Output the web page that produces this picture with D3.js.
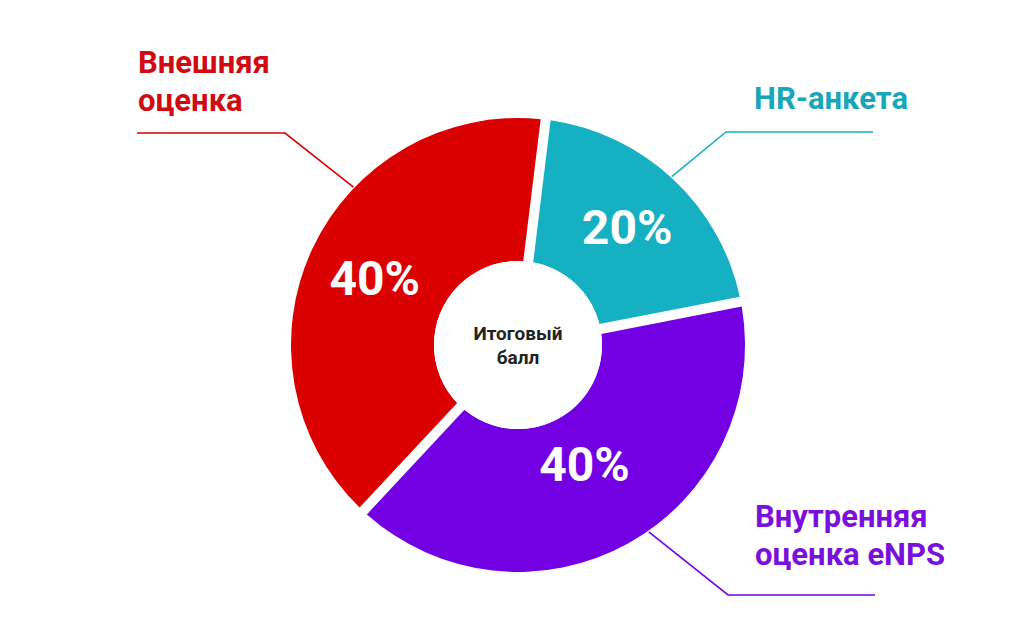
<!DOCTYPE html>
<html>
<head>
<meta charset="utf-8">
<script src="https://cdn.jsdelivr.net/npm/d3@7"></script>
<style>
  body { margin: 0; background: #fff; }
  svg { display: block; font-family: Roboto, 'Open Sans', sans-serif; }
</style>
</head>
<body>
<svg id="chart" width="1024" height="619"></svg>
<script>
// data for the donut, in drawing order (clockwise from the top)
const categories = ['HR-анкета', 'Внутренняя оценка eNPS', 'Внешняя оценка'];
const shares = [20, 40, 40];
const sliceColors = ['#15b1c2', '#7300e3', '#db0000'];
const labelColors = ['#17a7b9', '#7a10dc', '#cf0a12'];
const centerText = ['Итоговый', 'балл'];

const width = 1024;
const height = 619;
const cx = 518;
const cy = 345;
const outerR = 227;
const innerR = 84;

const svg = d3.select('#chart');
const g = svg.append('g').attr('transform', `translate(${cx},${cy})`);

// pie starts a little right of 12 o'clock
const start = 7 * Math.PI / 180;
const pie = d3.pie()
  .sort(null)
  .value(d => d)
  .startAngle(start)
  .endAngle(start + 2 * Math.PI);

const arcs = pie(shares);

const arc = d3.arc()
  .innerRadius(innerR)
  .outerRadius(outerR)
  .padAngle(10 / outerR)
  .padRadius(outerR);

g.selectAll('path.slice')
  .data(arcs)
  .join('path')
  .attr('class', 'slice')
  .attr('d', arc)
  .attr('fill', (d, i) => sliceColors[i]);

// white hole in the middle
g.append('circle')
  .attr('r', innerR)
  .attr('fill', '#fff');

g.append('text')
  .attr('text-anchor', 'middle')
  .attr('font-size', 19)
  .attr('font-weight', 700)
  .attr('fill', '#222')
  .selectAll('tspan')
  .data(centerText)
  .join('tspan')
  .attr('x', 0)
  .attr('y', (d, i) => -5 + i * 24)
  .text(d => d);

// percent labels inside the slices
const labelR = [160, 137, 158];
g.selectAll('text.pct')
  .data(arcs)
  .join('text')
  .attr('class', 'pct')
  .attr('text-anchor', 'middle')
  .attr('dominant-baseline', 'central')
  .attr('font-size', 48)
  .attr('font-weight', 700)
  .attr('fill', '#fff')
  .attr('transform', (d, i) => {
    const p = d3.arc().innerRadius(labelR[i]).outerRadius(labelR[i]).centroid(d);
    return `translate(${p[0]},${p[1]})`;
  })
  .text(d => d.value + '%');

// leader lines and category labels
// each leader: point on the slice edge, an elbow, and the end of the flat line
const leaderAngle = [42.4, 145, 313.8];
const leaders = arcs.map((d, i) => {
  const a = leaderAngle[i] * Math.PI / 180;
  return [Math.sin(a) * (outerR + 1), -Math.cos(a) * (outerR + 1)];
});

const leaderPaths = [
  [leaders[0], [726 - cx, 132 - cy], [873 - cx, 132 - cy]],
  [leaders[1], [728 - cx, 595 - cy], [875 - cx, 595 - cy]],
  [leaders[2], [285 - cx, 133 - cy], [137 - cx, 133 - cy]],
];

g.selectAll('path.leader')
  .data(leaderPaths)
  .join('path')
  .attr('class', 'leader')
  .attr('d', d => d3.line()(d))
  .attr('fill', 'none')
  .attr('stroke', (d, i) => sliceColors[i])
  .attr('stroke-width', 1.6);

const labelLines = [
  { lines: ['HR-анкета'], x: 754, y: 109 },
  { lines: ['Внутренняя', 'оценка eNPS'], x: 755, y: 527 },
  { lines: ['Внешняя', 'оценка'], x: 138, y: 73 },
];

svg.selectAll('text.cat')
  .data(labelLines)
  .join('text')
  .attr('class', 'cat')
  .attr('font-size', 31)
  .attr('font-weight', 700)
  .attr('fill', (d, i) => labelColors[i])
  .each(function (d) {
    d3.select(this).selectAll('tspan')
      .data(d.lines)
      .join('tspan')
      .attr('x', d.x)
      .attr('y', (t, j) => d.y + j * 38)
      .text(t => t);
  });
</script>
</body>
</html>
